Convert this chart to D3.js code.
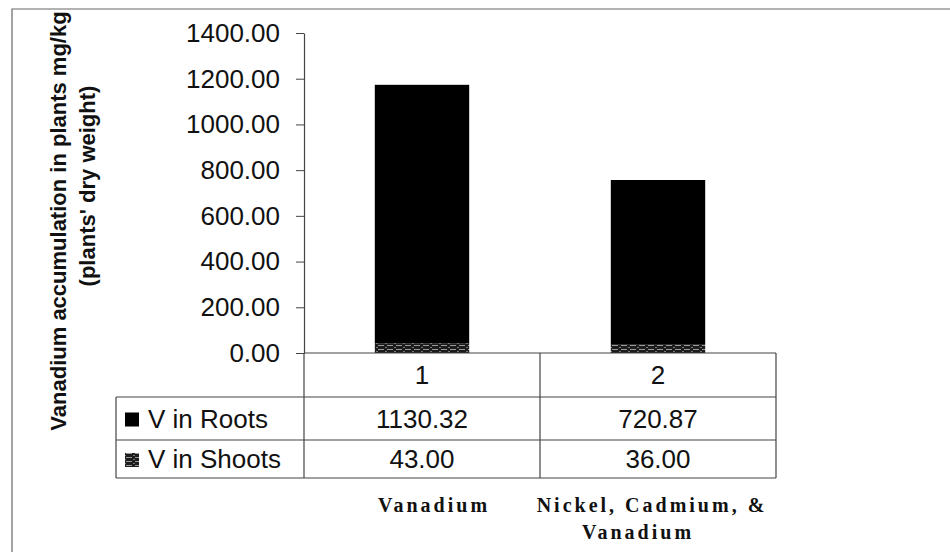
<!DOCTYPE html>
<html>
<head>
<meta charset="utf-8">
<script src="https://cdn.jsdelivr.net/npm/d3@7"></script>
<style>
  html, body { margin: 0; padding: 0; background: #fff; }
  svg { display: block; }
</style>
</head>
<body>
<svg id="chart" width="950" height="552"></svg>
<script>
// Vanadium accumulation (mg/kg dry weight), stacked roots + shoots
const categories = ["1", "2"];
const treatments = [["Vanadium"], ["Nickel, Cadmium, &", "Vanadium"]];
const seriesNames = ["V in Roots", "V in Shoots"];
const rootsValues = [1130.32, 720.87];
const shootsValues = [43.00, 36.00];
const yTicks = [0, 200, 400, 600, 800, 1000, 1200, 1400];

const svg = d3.select("#chart");
const sans = "'Liberation Sans', Arial, sans-serif";
const serif = "'Liberation Serif', 'Times New Roman', serif";
const fs = 26;

// speckled fill used for the shoots series
const defs = svg.append("defs");
const pat = defs.append("pattern")
  .attr("id", "shootFill").attr("patternUnits", "userSpaceOnUse")
  .attr("width", 9).attr("height", 4);
pat.append("rect").attr("width", 9).attr("height", 4).attr("fill", "#1c1c1c");
pat.append("rect").attr("x", 0).attr("y", 1).attr("width", 6).attr("height", 1).attr("fill", "#9a9a9a");
pat.append("rect").attr("x", 7).attr("y", 3).attr("width", 2).attr("height", 1).attr("fill", "#777");

// outer chart frame
svg.append("path")
  .attr("d", "M12,560 L12,9 L960,9")
  .attr("fill", "none").attr("stroke", "#666").attr("stroke-width", 1.2);

const plotLeft = 304, plotRight = 776, plotTop = 33, plotBottom = 353;

const x = d3.scaleBand().domain(categories).range([plotLeft, plotRight])
  .paddingInner(0.6).paddingOuter(0.3);
const y = d3.scaleLinear().domain([0, 1400]).range([plotBottom, plotTop]);

// stacked data
const rows = categories.map((c, i) => ({ cat: c, shoots: shootsValues[i], roots: rootsValues[i] }));
const stack = d3.stack().keys(["shoots", "roots"])(rows);
const fills = { shoots: "url(#shootFill)", roots: "#000" };

svg.append("g").selectAll("g").data(stack).join("g")
  .attr("fill", d => fills[d.key])
  .selectAll("rect").data(d => d).join("rect")
  .attr("x", d => x(d.data.cat))
  .attr("width", x.bandwidth())
  .attr("y", d => y(d[1]))
  .attr("height", d => y(d[0]) - y(d[1]));

// value axis
const yAxis = d3.axisLeft(y).tickValues(yTicks).tickFormat(d3.format(".2f"))
  .tickSize(8).tickSizeOuter(0).tickPadding(16);
const ga = svg.append("g").attr("transform", `translate(${plotLeft},0)`).call(yAxis);
ga.select(".domain").attr("stroke", "#444").attr("stroke-width", 1.2);
ga.selectAll(".tick line").attr("stroke", "#444");
ga.selectAll(".tick text").attr("font-family", sans).attr("font-size", fs).attr("fill", "#111");

// axis title
const title = svg.append("text")
  .attr("transform", "rotate(-90)")
  .attr("font-family", sans).attr("font-weight", "bold").attr("font-size", 22)
  .attr("fill", "#111").attr("text-anchor", "middle");
title.append("tspan").attr("x", -221).attr("y", 66).text("Vanadium accumulation in plants mg/kg");
title.append("tspan").attr("x", -186).attr("y", 95).text("(plants' dry weight)");

// data table below the plot
const tableLeft = 116;
const rowY = [353, 397, 440, 478];
const colX = [plotLeft, plotLeft + x.step(), plotRight];
const tg = svg.append("g").attr("stroke", "#444").attr("stroke-width", 1.2).attr("fill", "none");
tg.append("line").attr("x1", plotLeft).attr("x2", plotRight).attr("y1", rowY[0]).attr("y2", rowY[0]);
[rowY[1], rowY[2], rowY[3]].forEach(yy =>
  tg.append("line").attr("x1", tableLeft).attr("x2", plotRight).attr("y1", yy).attr("y2", yy));
tg.append("line").attr("x1", tableLeft).attr("x2", tableLeft).attr("y1", rowY[1]).attr("y2", rowY[3]);
colX.forEach(xx =>
  tg.append("line").attr("x1", xx).attr("x2", xx).attr("y1", rowY[0]).attr("y2", rowY[3]));

const cellText = (txt, cx, cy) => svg.append("text")
  .attr("x", cx).attr("y", cy).attr("dy", "0.35em")
  .attr("text-anchor", "middle").attr("font-family", sans).attr("font-size", fs)
  .attr("fill", "#111").text(txt);

categories.forEach((c, i) => {
  const cx = x(c) + x.bandwidth() / 2;
  cellText(c, cx, (rowY[0] + rowY[1]) / 2);
  cellText(d3.format(".2f")(rootsValues[i]), cx, (rowY[1] + rowY[2]) / 2);
  cellText(d3.format(".2f")(shootsValues[i]), cx, (rowY[2] + rowY[3]) / 2);
});

// legend keys in the first column
const legendFills = ["#000", "url(#shootFill)"];
seriesNames.forEach((name, i) => {
  const cy = (rowY[i + 1] + rowY[i + 2]) / 2;
  svg.append("rect").attr("x", 125).attr("y", cy - 6).attr("width", 14).attr("height", 14)
    .attr("fill", legendFills[i]);
  svg.append("text").attr("x", 148).attr("y", cy).attr("dy", "0.35em")
    .attr("font-family", sans).attr("font-size", fs).attr("fill", "#111").text(name);
});

// treatment names under the table (lines shifted like the original layout)
const lineShift = [[12], [-6, -20]];
treatments.forEach((lines, i) => {
  const cx = x(categories[i]) + x.bandwidth() / 2;
  lines.forEach((ln, j) => {
    svg.append("text").attr("x", cx + lineShift[i][j]).attr("y", 512 + j * 27)
      .attr("text-anchor", "middle").attr("font-family", serif).attr("font-weight", "bold")
      .attr("font-size", 20).attr("letter-spacing", 3).attr("fill", "#111").text(ln);
  });
});
</script>
</body>
</html>
